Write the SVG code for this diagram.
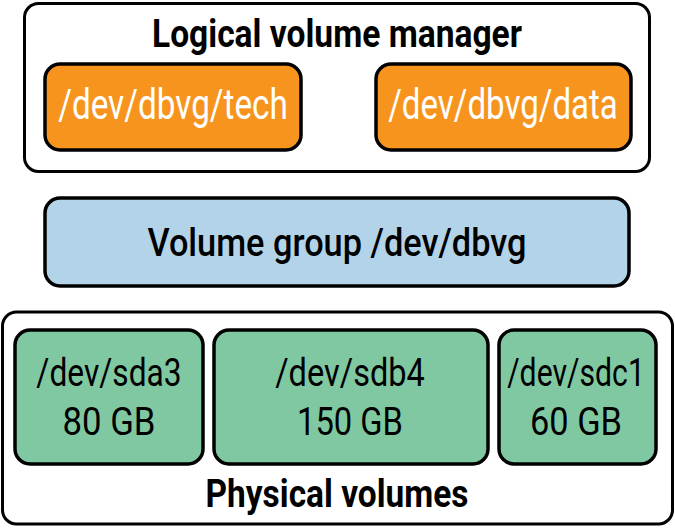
<svg xmlns="http://www.w3.org/2000/svg" width="675" height="528" viewBox="0 0 675 528">
<style>
.frame{fill:#fff;stroke:#000;stroke-width:3}
.box{stroke:#000;stroke-width:3.5}
.or{fill:#f7941d}
.bl{fill:#b3d4e8}
.gr{fill:#80c8a1}
text{font-family:"Roboto","Liberation Sans",sans-serif;text-anchor:middle}
.t{font-size:38px;font-weight:bold;fill:#000}
.w{font-size:42px;fill:#fff}
.k{font-size:39px;fill:#000}
</style>
<rect width="675" height="528" fill="#fff"/>
<g id="lvm">
<rect class="frame" x="24.5" y="3.5" width="625" height="168" rx="14"/>
<text class="t" x="337" y="47" textLength="370" lengthAdjust="spacingAndGlyphs">Logical volume manager</text>
</g>
<g id="lv-tech">
<rect class="box or" x="45" y="64" width="256" height="86" rx="15"/>
<text class="w" transform="translate(173,119) scale(0.87,1)" textLength="264" lengthAdjust="spacingAndGlyphs">/dev/dbvg/tech</text>
</g>
<g id="lv-data">
<rect class="box or" x="376" y="64" width="255" height="86" rx="15"/>
<text class="w" transform="translate(503,119) scale(0.87,1)" textLength="264" lengthAdjust="spacingAndGlyphs">/dev/dbvg/data</text>
</g>
<g id="vg">
<rect class="box bl" x="45" y="198" width="584" height="88" rx="15"/>
<text class="t" x="337" y="256" textLength="379" lengthAdjust="spacingAndGlyphs" style="font-weight:500">Volume group /dev/dbvg</text>
</g>
<g id="pv">
<rect class="frame" x="2.5" y="312" width="670" height="212" rx="14"/>
<text class="t" x="337" y="507" textLength="263" lengthAdjust="spacingAndGlyphs">Physical volumes</text>
</g>
<g id="sda3">
<rect class="box gr" x="15" y="330" width="188" height="134" rx="15"/>
<text class="k" transform="translate(109,386) scale(0.87,1)" textLength="167" lengthAdjust="spacingAndGlyphs">/dev/sda3</text>
<text class="k" x="109" y="435" textLength="93" lengthAdjust="spacingAndGlyphs">80 GB</text>
</g>
<g id="sdb4">
<rect class="box gr" x="214" y="330" width="274" height="134" rx="15"/>
<text class="k" transform="translate(350,386) scale(0.87,1)" textLength="172" lengthAdjust="spacingAndGlyphs">/dev/sdb4</text>
<text class="k" x="350" y="435" textLength="106" lengthAdjust="spacingAndGlyphs">150 GB</text>
</g>
<g id="sdc1">
<rect class="box gr" x="499" y="330" width="157" height="134" rx="15"/>
<text class="k" transform="translate(576,386) scale(0.85,1)" textLength="162" lengthAdjust="spacingAndGlyphs">/dev/sdc1</text>
<text class="k" x="576" y="435" textLength="92" lengthAdjust="spacingAndGlyphs">60 GB</text>
</g>
<g id="connectors"></g>
</svg>
